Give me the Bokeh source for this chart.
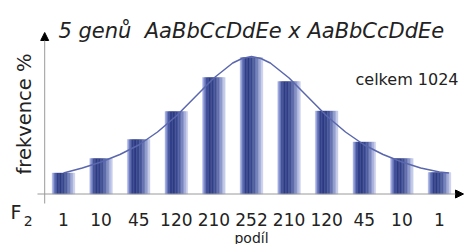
from bokeh.plotting import figure
from bokeh.models import ColumnDataSource, Range1d, Label, Arrow, NormalHead
from bokeh.transform import dodge
from bokeh.core.properties import value
from bokeh.embed import file_html
from bokeh.resources import INLINE

# ---- data ----
positions = list(range(11))
tick_labels = ["1", "10", "45", "120", "210", "252", "210", "120", "45", "10", "1"]
bar_heights = [21, 35.5, 54.5, 82.5, 116.5, 136.5, 112.5, 83, 52, 35.5, 21.5]
curve_x = [0.0, 0.5, 1.0, 1.5, 2.0, 2.5, 3.0, 3.5, 4.0, 4.5, 4.75, 5.0,
           5.25, 5.5, 6.0, 6.5, 7.0, 7.5, 8.0, 8.5, 9.0, 9.5, 10.0, 10.25]
curve_y = [21, 26, 32, 39.5, 49, 62, 78, 97, 116, 131, 135.5, 137.5,
           135.5, 131, 116, 97, 78, 62, 49, 39.5, 32, 26, 22, 21]
title_text = "5 genů\u00a0 AaBbCcDdEe x AaBbCcDdEe"
total_text = "celkem 1024"
x_label = "podíl"
y_label = "frekvence %"

FONT = "DejaVu Sans"
TXT = "#222222"

p = figure(width=472, height=244, output_backend="svg", toolbar_location=None,
           x_range=Range1d(-1.6755, 10.8777), y_range=Range1d(-50.5, 193.5),
           x_axis_location=None, y_axis_location=None,
           min_border=0, min_border_left=0, min_border_right=0,
           min_border_top=0, min_border_bottom=0)
p.grid.visible = False
p.outline_line_color = None
p.background_fill_color = "white"
p.border_fill_color = "white"

src = ColumnDataSource(dict(x=positions, top=bar_heights, lab=tick_labels))

# cylinder-like horizontal shading made of narrow strips
strip_colors = ["#a3ade0", "#6f7dc2", "#47569f", "#34428b", "#2e3c85",
                "#2e3c85", "#324088", "#38478e", "#415095", "#4e5ca0",
                "#5f6dac", "#7482bb", "#8c98cb", "#a8b1db", "#c6cdea"]
bar_w = 0.6
n = len(strip_colors)
sw = bar_w / n
for k, c in enumerate(strip_colors):
    off = -bar_w / 2 + sw / 2 + k * sw
    p.vbar(x=dodge("x", off, range=p.x_range), top="top", bottom=0, width=sw,
           source=src, fill_color=c, line_color=c, line_width=0.4)

# fitted curve
p.line(curve_x, curve_y, line_color="#5a67ad", line_width=1.5)

# axes with arrows
p.add_layout(Arrow(end=NormalHead(size=8, fill_color="black", line_color="black"),
                   x_start=-0.6915, y_start=0, x_end=10.638, y_end=0,
                   line_color="#9a9a9a", line_width=1))
p.add_layout(Arrow(end=NormalHead(size=8, fill_color="black", line_color="black"),
                   x_start=-0.5, y_start=-9.5, x_end=-0.5, y_end=161.5,
                   line_color="#9a9a9a", line_width=1))

# tick labels
p.text(x="x", y=-25.5, text="lab", source=src, text_align="center",
       text_baseline="alphabetic", text_font=value(FONT),
       text_font_size="17px", text_color=TXT)

# texts
p.add_layout(Label(x=-0.133, y=163.5, text=title_text, text_font=FONT,
                   text_font_style="italic", text_font_size="21px",
                   text_color=TXT, text_align="left", text_baseline="alphabetic"))
p.add_layout(Label(x=9.136, y=114.5, text=total_text, text_font=FONT,
                   text_font_size="16px", text_color=TXT, text_align="center",
                   text_baseline="alphabetic"))
p.add_layout(Label(x=5.0, y=-43.5, text=x_label, text_font=FONT,
                   text_font_size="14px", text_color=TXT, text_align="center",
                   text_baseline="alphabetic"))
p.add_layout(Label(x=-1.024, y=80, text=y_label, text_font=FONT,
                   text_font_size="19.5px", text_color=TXT, text_align="center",
                   text_baseline="middle", angle=1.5708))
p.add_layout(Label(x=-1.41, y=-17.5, text="F", text_font=FONT,
                   text_font_size="19px", text_color=TXT, text_align="left",
                   text_baseline="alphabetic"))
p.add_layout(Label(x=-1.06, y=-26.5, text="2", text_font=FONT,
                   text_font_size="14px", text_color=TXT, text_align="left",
                   text_baseline="alphabetic"))

open("out.html", "w").write(file_html(p, INLINE))
